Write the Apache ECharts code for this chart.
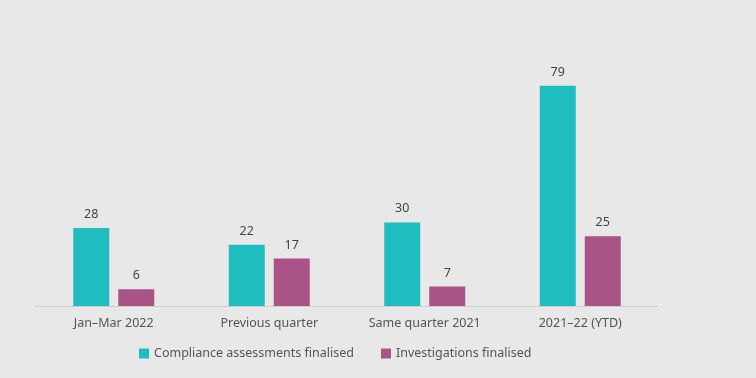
<!DOCTYPE html>
<html>
<head>
<meta charset="utf-8">
<script src="https://cdn.jsdelivr.net/npm/echarts@6/dist/echarts.min.js"></script>
<style>
  html, body { margin: 0; padding: 0; background: #e8e8e8; }
  #chart { width: 756px; height: 378px; }
</style>
</head>
<body>
<div id="chart"></div>
<script>
const categories = ['Jan\u2013Mar 2022', 'Previous quarter', 'Same quarter 2021', '2021\u201322 (YTD)']
const compliance = [28, 22, 30, 79]
const investigations = [6, 17, 7, 25]

const chart = echarts.init(document.getElementById('chart'))
const font = '"Noto Sans", sans-serif'

chart.setOption({
  backgroundColor: '#e8e8e8',
  textStyle: { fontFamily: font },
  grid: { left: 36, right: 98, top: 83, bottom: 72 },
  legend: {
    bottom: 13,
    left: 134,
    itemWidth: 10,
    itemHeight: 10,
    itemGap: 27,
    icon: 'rect',
    textStyle: { color: '#555', fontSize: 12.5, fontFamily: font },
    data: ['Compliance assessments finalised', 'Investigations finalised'],
  },
  xAxis: {
    type: 'category',
    data: categories,
    axisLine: { show: true, lineStyle: { color: '#c8c8c8', type: 'dotted' } },
    axisTick: { show: false },
    axisLabel: { color: '#555', fontSize: 12.5, margin: 11, fontFamily: font },
  },
  yAxis: {
    type: 'value',
    min: 0,
    max: 80,
    show: false,
    splitLine: { show: false },
  },
  series: [
    {
      name: 'Compliance assessments finalised',
      type: 'bar',
      data: compliance,
      barWidth: 36,
      barGap: '25%',
      itemStyle: { color: '#1fbdc0' },
      label: { show: true, position: 'top', color: '#444', fontSize: 12.5, distance: 7 },
    },
    {
      name: 'Investigations finalised',
      type: 'bar',
      data: investigations,
      barWidth: 36,
      itemStyle: { color: '#a85487' },
      label: { show: true, position: 'top', color: '#444', fontSize: 12.5, distance: 7 },
    },
  ],
})
</script>
</body>
</html>
